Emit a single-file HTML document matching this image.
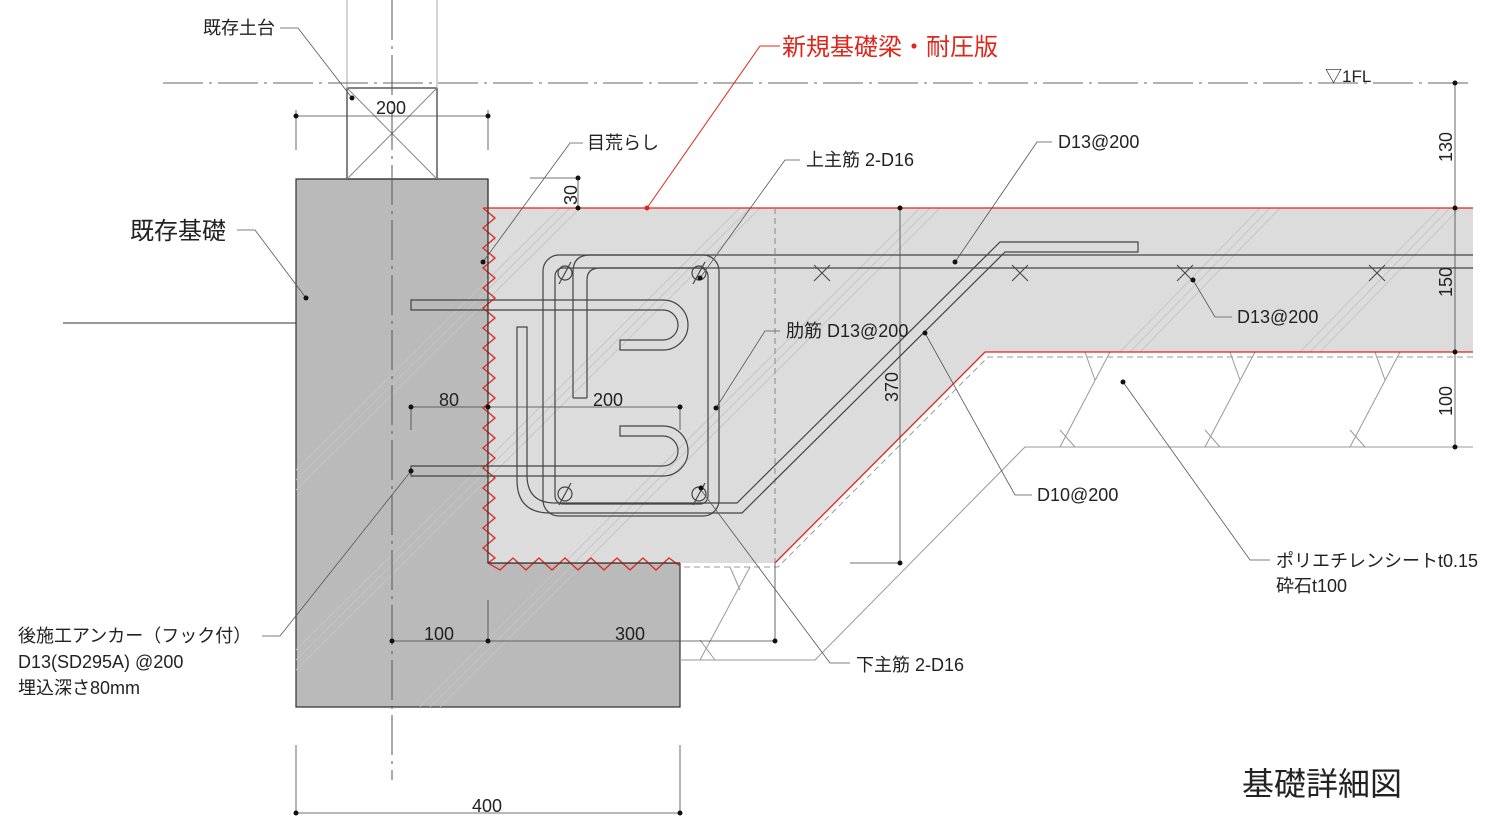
<!DOCTYPE html>
<html><head><meta charset="utf-8"><style>
html,body{margin:0;padding:0;background:#fff;}
svg{display:block;}
text{font-family:"Liberation Sans","Noto Sans CJK JP",sans-serif;fill:#222;}
</style></head><body>
<svg width="1500" height="825" viewBox="0 0 1500 825" xmlns="http://www.w3.org/2000/svg">
<defs>
<clipPath id="cl"><polygon points="296,179 488,179 488,208 1473,208 1473,352 985,352 775,563 680,563 680,707 296,707"/></clipPath>
</defs>
<polygon points="296,179 488,179 488,563 680,563 680,707 296,707" fill="#bababa" stroke="#333" stroke-width="1.2"/>
<polygon points="488,208 1473,208 1473,352 985,352 775,563 488,563" fill="#dcdcdc"/>
<g clip-path="url(#cl)" stroke="#c4c4c4" stroke-width="1" opacity="0.9">
<line x1="296" y1="470" x2="560" y2="208"/><line x1="296" y1="480" x2="570" y2="208"/><line x1="296" y1="490" x2="580" y2="208"/>
<line x1="296" y1="650" x2="740" y2="208"/><line x1="296" y1="660" x2="750" y2="208"/><line x1="296" y1="670" x2="760" y2="208"/>
<line x1="420" y1="707" x2="920" y2="208"/><line x1="430" y1="707" x2="930" y2="208"/><line x1="440" y1="707" x2="940" y2="208"/>
<line x1="1120" y1="352" x2="1260" y2="208"/><line x1="1130" y1="352" x2="1270" y2="208"/><line x1="1140" y1="352" x2="1280" y2="208"/>
<line x1="1300" y1="352" x2="1440" y2="208"/><line x1="1310" y1="352" x2="1450" y2="208"/><line x1="1320" y1="352" x2="1460" y2="208"/>
</g>
<rect x="347" y="88" width="90" height="91" fill="none" stroke="#333" stroke-width="1.2"/>
<line x1="347" y1="88" x2="437" y2="179" stroke="#888"/><line x1="437" y1="88" x2="347" y2="179" stroke="#888"/>
<line x1="347" y1="0" x2="347" y2="88" stroke="#aaa"/><line x1="437" y1="0" x2="437" y2="88" stroke="#aaa"/>
<line x1="392" y1="0" x2="392" y2="780" stroke="#555" stroke-dasharray="40,6,3,6"/>
<line x1="163" y1="83" x2="1473" y2="83" stroke="#666" stroke-dasharray="40,6,3,6"/>
<text x="1325" y="82" font-size="17">▽1FL</text>
<line x1="63" y1="323" x2="296" y2="323" stroke="#333"/>
<g stroke="#999" fill="none" stroke-width="1">
<polyline points="1473,447 1025,447 815,660 680,660"/>
<polyline points="1473,357 988,357 778,567 680,567" stroke-dasharray="6,4"/>
<line x1="1110" y1="352" x2="1060" y2="447"/><line x1="1085" y1="352" x2="1095" y2="380"/><line x1="1060" y1="430" x2="1075" y2="447"/>
<line x1="1255" y1="352" x2="1205" y2="447"/><line x1="1230" y1="352" x2="1240" y2="380"/><line x1="1205" y1="430" x2="1220" y2="447"/>
<line x1="1400" y1="352" x2="1350" y2="447"/><line x1="1375" y1="352" x2="1385" y2="380"/><line x1="1350" y1="430" x2="1365" y2="447"/>
<line x1="750" y1="567" x2="700" y2="660"/><line x1="730" y1="567" x2="740" y2="590"/><line x1="700" y1="640" x2="715" y2="660"/>
</g>
<g stroke="#e0261b" fill="none" stroke-width="1.3">
<polyline points="483,208 1473,208"/>
<polyline points="1473,352 985,352 775,563"/>
<polyline points="483,208 495,218 483,228 495,238 483,248 495,258 483,268 495,278 483,288 495,298 483,308 495,318 483,328 495,338 483,348 495,358 483,368 495,378 483,388 495,398 483,408 495,418 483,428 495,438 483,448 495,458 483,468 495,478 483,488 495,498 483,508 495,518 483,528 495,538 483,548 495,558 488,563"/>
<polyline points="488,563 500,570 513,558 526,570 539,558 552,570 565,558 578,570 591,558 604,570 617,558 630,570 643,558 656,570 669,558 680,566"/>
</g>
<line x1="488" y1="179" x2="488" y2="563" stroke="#333" stroke-width="1.2"/>
<line x1="488" y1="563" x2="680" y2="563" stroke="#333" stroke-width="1.2"/>
<line x1="775" y1="208" x2="775" y2="563" stroke="#888" stroke-dasharray="6,4"/>
<g stroke="#444" fill="none" stroke-width="1.2">
<rect x="543" y="255" width="176" height="261" rx="16"/>
<rect x="555" y="268" width="153" height="236" rx="8"/>
<path d="M573,398 V272 Q573,255 590,255 H1473"/>
<path d="M587,398 V280 Q587,268 600,268 H1473"/>
<line x1="573" y1="398" x2="587" y2="398"/>
<path d="M517,327 V480 Q517,513 550,513 H742 L1005,252 H1138 V242 H1000 L737,503 H555 Q527,503 527,475 V327 Z"/>
<path d="M411,300 H663 A25,25 0 0 1 663,350 H620 V340 H663 A15,15 0 0 0 663,310 H411 Z"/>
<path d="M411,476 H663 A25,25 0 0 0 663,426 H620 V436 H663 A15,15 0 0 1 663,466 H411 Z"/>
<circle cx="565" cy="273" r="7"/><circle cx="699" cy="273" r="7"/><circle cx="565" cy="494" r="7"/><circle cx="699" cy="494" r="7"/>
<line x1="559" y1="284" x2="571" y2="262"/><line x1="693" y1="284" x2="705" y2="262"/><line x1="559" y1="505" x2="571" y2="483"/><line x1="693" y1="505" x2="705" y2="483"/>
</g>
<g stroke="#444" stroke-width="1">
<path d="M814,265 L830,281 M830,265 L814,281"/><path d="M1012,265 L1028,281 M1028,265 L1012,281"/>
<path d="M1177,265 L1193,281 M1193,265 L1177,281"/><path d="M1369,265 L1385,281 M1385,265 L1369,281"/>
</g>
<g stroke="#444" stroke-width="0.8" fill="none">
<line x1="296" y1="116" x2="488" y2="116"/><line x1="296" y1="110" x2="296" y2="150"/><line x1="488" y1="110" x2="488" y2="150"/>
<line x1="296" y1="813" x2="680" y2="813"/><line x1="296" y1="745" x2="296" y2="813"/><line x1="680" y1="745" x2="680" y2="813"/>
<line x1="392" y1="641" x2="775" y2="641"/><line x1="488" y1="600" x2="488" y2="641"/><line x1="775" y1="563" x2="775" y2="641"/>
<line x1="411" y1="407" x2="680" y2="407"/><line x1="411" y1="407" x2="411" y2="430"/><line x1="680" y1="407" x2="680" y2="430"/>
<line x1="578" y1="178" x2="578" y2="208"/><line x1="530" y1="178" x2="578" y2="178"/>
<line x1="900" y1="208" x2="900" y2="563"/><line x1="850" y1="563" x2="900" y2="563"/>
<line x1="1455" y1="83" x2="1455" y2="447"/>
</g>
<g fill="#111">
<circle cx="296" cy="116" r="2.5"/><circle cx="488" cy="116" r="2.5"/>
<circle cx="296" cy="813" r="2.5"/><circle cx="680" cy="813" r="2.5"/>
<circle cx="392" cy="641" r="2.5"/><circle cx="488" cy="641" r="2.5"/><circle cx="775" cy="641" r="2.5"/>
<circle cx="411" cy="407" r="2.5"/><circle cx="488" cy="407" r="2.5"/><circle cx="680" cy="407" r="2.5"/>
<circle cx="578" cy="178" r="2.5"/><circle cx="578" cy="208" r="2.5"/>
<circle cx="900" cy="208" r="2.5"/><circle cx="900" cy="563" r="2.5"/>
<circle cx="1455" cy="83" r="2.5"/><circle cx="1455" cy="208" r="2.5"/><circle cx="1455" cy="352" r="2.5"/><circle cx="1455" cy="447" r="2.5"/>
</g>
<g font-size="18">
<text x="376" y="114">200</text>
<text x="472" y="812">400</text>
<text x="424" y="640">100</text>
<text x="615" y="640">300</text>
<text x="439" y="406">80</text>
<text x="593" y="406">200</text>
<text transform="translate(577,205) rotate(-90)">30</text>
<text transform="translate(898,402) rotate(-90)">370</text>
<text transform="translate(1452,162) rotate(-90)">130</text>
<text transform="translate(1452,297) rotate(-90)">150</text>
<text transform="translate(1452,416) rotate(-90)">100</text>
</g>
<g stroke="#555" stroke-width="0.8" fill="none">
<polyline points="280,28 298,28 352,98"/>
<polyline points="583,143 570,143 483,262"/>
<polyline points="800,160 785,160 700,278"/>
<polyline points="1052,142 1037,142 955,262"/>
<polyline points="237,230 255,230 306,298"/>
<polyline points="780,331 765,331 716,408"/>
<polyline points="1232,317 1215,317 1193,280"/>
<polyline points="1032,495 1015,495 925,333"/>
<polyline points="1270,560 1250,560 1123,382"/>
<polyline points="850,663 830,663 701,490"/>
<polyline points="262,636 280,636 411,471"/>
</g>
<polyline points="780,46 760,46 647,208" stroke="#e0261b" fill="none" stroke-width="1"/>
<circle cx="647" cy="208" r="2.5" fill="#e0261b"/>
<g fill="#111">
<circle cx="352" cy="98" r="2.5"/><circle cx="483" cy="262" r="2.5"/><circle cx="700" cy="278" r="2.5"/>
<circle cx="955" cy="262" r="2.5"/><circle cx="306" cy="298" r="2.5"/><circle cx="716" cy="408" r="2.5"/>
<circle cx="1193" cy="280" r="2.5"/><circle cx="925" cy="333" r="2.5"/><circle cx="1123" cy="382" r="2.5"/>
<circle cx="701" cy="488" r="2.5"/><circle cx="411" cy="471" r="2.5"/>
</g>
<g font-size="18">
<text x="203" y="34">既存土台</text>
<text x="587" y="149">目荒らし</text>
<text x="806" y="166">上主筋 2-D16</text>
<text x="1058" y="148">D13@200</text>
<text x="786" y="337">肋筋 D13@200</text>
<text x="1237" y="323">D13@200</text>
<text x="1037" y="501">D10@200</text>
<text x="1276" y="567">ポリエチレンシートt0.15</text>
<text x="1276" y="592">砕石t100</text>
<text x="856" y="671">下主筋 2-D16</text>
<text x="18" y="642">後施工アンカー（フック付）</text>
<text x="18" y="668">D13(SD295A) @200</text>
<text x="18" y="694">埋込深さ80mm</text>
</g>
<text x="130" y="239" font-size="24">既存基礎</text>
<text x="782" y="55" font-size="24" style="fill:#e0261b">新規基礎梁・耐圧版</text>
<text x="1242" y="795" font-size="32">基礎詳細図</text>
</svg>
</body></html>
